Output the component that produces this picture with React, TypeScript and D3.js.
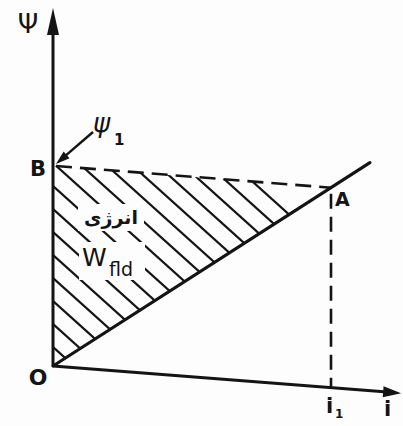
import React from "react";
import * as d3 from "d3";

// Flux linkage vs. current for a linear magnetic circuit (values normalised to i1, psi1)
const curveI = [0, 1, 1.14];
const curvePsi = [0, 1, 1.14];
const operatingI = [1];
const operatingPsi = [1];
const axisMaxI = [1.245];
const axisMaxPsi = [1.78];

const W = 403;
const H = 426;
const originX = 53;
const originY = 366;
const skew = 0.078; // slight tilt of the horizontal direction on the sheet

const xScale = d3.scaleLinear().domain([0, 1]).range([originX, 331]);
const hScale = d3.scaleLinear().domain([0, 1]).range([0, 200]);

const P = (i: number, psi: number): [number, number] => {
  const x = xScale(i);
  return [x, originY + skew * (x - originX) - hScale(psi)];
};

const ink = "#141414";
const font = "'DejaVu Sans', 'Liberation Sans', sans-serif";

export default function App() {
  const i1 = operatingI[0];
  const psi1 = operatingPsi[0];
  const O = P(0, 0);
  const A = P(i1, psi1);
  const B = P(0, psi1);
  const Ai = P(i1, 0);
  const xEnd = P(axisMaxI[0], 0);
  const yEnd = P(0, axisMaxPsi[0]);

  const line = d3.line<[number, number]>();
  const curve = curveI.map((v, k) => P(v, curvePsi[k]));
  const triangle = [O, B, A];

  // hatching: parallel strokes falling to the right, clipped to the energy triangle
  const slope = 0.9;
  const step = 23;
  const hatch: [number, number][][] = [];
  for (let c = 347 + step * 2; c > 347 - step * 16; c -= step) {
    hatch.push([
      [originX - 40, c - 40 * slope],
      [originX + 360, c + 360 * slope],
    ]);
  }

  // arrowheads
  const upHead = `M${yEnd[0]},${yEnd[1] - 2} L${yEnd[0] - 6},${yEnd[1] + 25} L${yEnd[0] + 6},${yEnd[1] + 25} Z`;
  const ang = Math.atan2(xEnd[1] - O[1], xEnd[0] - O[0]);
  const rot = (dx: number, dy: number): [number, number] => [
    xEnd[0] + dx * Math.cos(ang) - dy * Math.sin(ang),
    xEnd[1] + dx * Math.sin(ang) + dy * Math.cos(ang),
  ];
  const rightHead = line([rot(2, 0), rot(-16, -5.5), rot(-16, 5.5)]) + "Z";

  // pointer from the psi1 label to B
  const pStart: [number, number] = [93, 132];
  const pEnd: [number, number] = [B[0] + 3, B[1] - 2];
  const pa = Math.atan2(pEnd[1] - pStart[1], pEnd[0] - pStart[0]);
  const prot = (dx: number, dy: number): [number, number] => [
    pEnd[0] + dx * Math.cos(pa) - dy * Math.sin(pa),
    pEnd[1] + dx * Math.sin(pa) + dy * Math.cos(pa),
  ];
  const pointerHead = line([prot(0, 0), prot(-14, -4.5), prot(-14, 4.5)]) + "Z";

  return (
    <svg
      width={W}
      height={H}
      viewBox={`0 0 ${W} ${H}`}
      style={{ position: "absolute", left: 0, top: 0, background: "#fdfdfd" }}
    >
      <defs>
        <clipPath id="energy">
          <path d={line(triangle) + "Z"} />
        </clipPath>
      </defs>
      <rect width={W} height={H} fill="#fdfdfd" />

      {/* hatched co-energy area */}
      <g clipPath="url(#energy)" stroke={ink} strokeWidth={2.2}>
        {hatch.map((seg, k) => (
          <path key={k} d={line(seg)!} />
        ))}
      </g>
      {/* clear space for the labels inside the area */}
      <rect x={78} y={204} width={66} height={27} fill="#fdfdfd" />
      <rect x={79} y={242} width={66} height={38} fill="#fdfdfd" />

      {/* axes */}
      <path d={line([O, [yEnd[0], yEnd[1] + 20]])!} stroke={ink} strokeWidth={3} fill="none" />
      <path d={upHead} fill={ink} />
      <path d={line([O, rot(-12, 0)])!} stroke={ink} strokeWidth={3} fill="none" />
      <path d={rightHead} fill={ink} />

      {/* dashed projections */}
      <path d={line([[B[0] + 3, B[1]], A])!} stroke={ink} strokeWidth={2.6} strokeDasharray="16 8" fill="none" />
      <path d={line([[A[0], A[1] + 6], Ai])!} stroke={ink} strokeWidth={2.6} strokeDasharray="15 8" fill="none" />

      {/* magnetisation characteristic */}
      <path d={line(curve)!} stroke={ink} strokeWidth={3.2} fill="none" strokeLinecap="round" />

      {/* psi1 pointer */}
      <path d={line([pStart, prot(-10, 0)])!} stroke={ink} strokeWidth={2.4} fill="none" />
      <path d={pointerHead} fill={ink} />

      {/* labels */}
      <g fill={ink} fontFamily={font}>
        <text x={28} y={33} fontSize={26} textAnchor="middle">Ψ</text>
        <text x={93} y={132} fontSize={26} fontStyle="italic">ψ</text>
        <text x={114} y={145} fontSize={15} fontWeight="bold">1</text>
        <text x={38} y={176} fontSize={21} fontWeight="bold" textAnchor="middle">B</text>
        <text x={38} y={385} fontSize={22} fontWeight="bold" textAnchor="middle">O</text>
        <text x={335} y={206} fontSize={19} fontWeight="bold">A</text>
        <text x={111} y={224} fontSize={19} fontWeight="bold" textAnchor="middle" direction="rtl">انرژی</text>
        <text x={82} y={266} fontSize={25}>W</text>
        <text x={109} y={276} fontSize={19}>fld</text>
        <text x={326} y={413} fontSize={21} fontWeight="bold">i</text>
        <text x={335} y={418} fontSize={12} fontWeight="bold">1</text>
        <text x={384} y={416} fontSize={21} fontWeight="bold">i</text>
      </g>
    </svg>
  );
}
